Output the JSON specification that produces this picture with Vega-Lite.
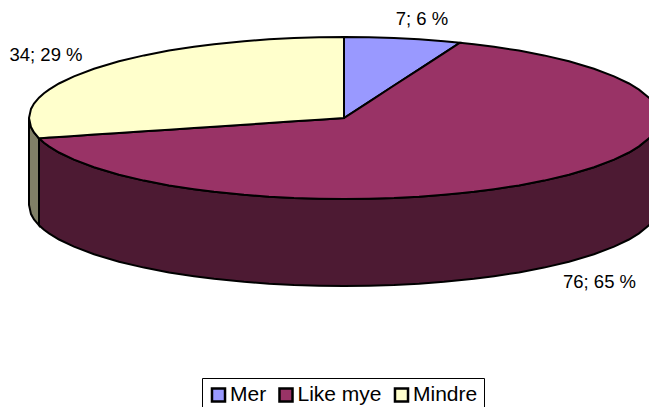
{"$schema":"https://vega.github.io/schema/vega-lite/v6.json","width":649,"height":407,"autosize":{"type":"fit","contains":"padding"},"padding":0,"background":"white","view":{"stroke":null},"config":{"font":"Liberation Sans"},
"datasets":{
"top":[
{"slice":"Mer","x":0,"y":-81,"y2":0},{"slice":"Mer","x":25,"y":-80.7,"y2":-16.2},{"slice":"Mer","x":50,"y":-80,"y2":-32.5},{"slice":"Mer","x":75,"y":-78.7,"y2":-48.7},{"slice":"Mer","x":100,"y":-76.8,"y2":-64.9},{"slice":"Mer","x":116,"y":-75.3,"y2":-75.3},
{"slice":"Like mye","x":-305,"y":20.3,"y2":20.3},{"slice":"Like mye","x":-300,"y":20,"y2":24.7},{"slice":"Like mye","x":-295,"y":19.6,"y2":28.4},{"slice":"Like mye","x":-285,"y":19,"y2":34.5},{"slice":"Like mye","x":-270,"y":18,"y2":41.7},{"slice":"Like mye","x":-250,"y":16.6,"y2":49.3},{"slice":"Like mye","x":-225,"y":15,"y2":56.7},{"slice":"Like mye","x":-200,"y":13.3,"y2":62.6},{"slice":"Like mye","x":-175,"y":11.7,"y2":67.4},{"slice":"Like mye","x":-150,"y":10,"y2":71.2},{"slice":"Like mye","x":-130,"y":8.7,"y2":73.8},{"slice":"Like mye","x":-100,"y":6.7,"y2":76.8},{"slice":"Like mye","x":-75,"y":5,"y2":78.7},{"slice":"Like mye","x":-50,"y":3.3,"y2":80},{"slice":"Like mye","x":-25,"y":1.7,"y2":80.7},{"slice":"Like mye","x":0,"y":0,"y2":81},{"slice":"Like mye","x":25,"y":-16.2,"y2":80.7},{"slice":"Like mye","x":50,"y":-32.5,"y2":80},{"slice":"Like mye","x":75,"y":-48.7,"y2":78.7},{"slice":"Like mye","x":100,"y":-64.9,"y2":76.8},{"slice":"Like mye","x":116,"y":-75.3,"y2":75.3},{"slice":"Like mye","x":130,"y":-73.8,"y2":73.8},{"slice":"Like mye","x":150,"y":-71.2,"y2":71.2},{"slice":"Like mye","x":175,"y":-67.4,"y2":67.4},{"slice":"Like mye","x":200,"y":-62.6,"y2":62.6},{"slice":"Like mye","x":225,"y":-56.7,"y2":56.7},{"slice":"Like mye","x":250,"y":-49.3,"y2":49.3},{"slice":"Like mye","x":270,"y":-41.7,"y2":41.7},{"slice":"Like mye","x":285,"y":-34.5,"y2":34.5},{"slice":"Like mye","x":295,"y":-28.4,"y2":28.4},{"slice":"Like mye","x":305,"y":-20.3,"y2":20.3},{"slice":"Like mye","x":310,"y":-14.4,"y2":14.4},{"slice":"Like mye","x":313,"y":-9.1,"y2":9.1},{"slice":"Like mye","x":315,"y":0,"y2":0},
{"slice":"Mindre","x":-315,"y":0,"y2":0},{"slice":"Mindre","x":-313,"y":-9.1,"y2":9.1},{"slice":"Mindre","x":-310,"y":-14.4,"y2":14.4},{"slice":"Mindre","x":-305,"y":-20.3,"y2":20.3},{"slice":"Mindre","x":-300,"y":-24.7,"y2":20},{"slice":"Mindre","x":-295,"y":-28.4,"y2":19.6},{"slice":"Mindre","x":-285,"y":-34.5,"y2":19},{"slice":"Mindre","x":-270,"y":-41.7,"y2":18},{"slice":"Mindre","x":-250,"y":-49.3,"y2":16.6},{"slice":"Mindre","x":-225,"y":-56.7,"y2":15},{"slice":"Mindre","x":-200,"y":-62.6,"y2":13.3},{"slice":"Mindre","x":-175,"y":-67.4,"y2":11.7},{"slice":"Mindre","x":-150,"y":-71.2,"y2":10},{"slice":"Mindre","x":-130,"y":-73.8,"y2":8.7},{"slice":"Mindre","x":-100,"y":-76.8,"y2":6.7},{"slice":"Mindre","x":-75,"y":-78.7,"y2":5},{"slice":"Mindre","x":-50,"y":-80,"y2":3.3},{"slice":"Mindre","x":-25,"y":-80.7,"y2":1.7},{"slice":"Mindre","x":0,"y":-81,"y2":0}
],
"side":[
{"slice":"Mindre","x":-315,"y":0,"y2":87},{"slice":"Mindre","x":-313,"y":9.1,"y2":96.1},{"slice":"Mindre","x":-310,"y":14.4,"y2":101.4},{"slice":"Mindre","x":-305,"y":20.3,"y2":107.3},
{"slice":"Like mye","x":-305,"y":20.3,"y2":107.3},{"slice":"Like mye","x":-300,"y":24.7,"y2":111.7},{"slice":"Like mye","x":-295,"y":28.4,"y2":115.4},{"slice":"Like mye","x":-285,"y":34.5,"y2":121.5},{"slice":"Like mye","x":-270,"y":41.7,"y2":128.7},{"slice":"Like mye","x":-250,"y":49.3,"y2":136.3},{"slice":"Like mye","x":-225,"y":56.7,"y2":143.7},{"slice":"Like mye","x":-200,"y":62.6,"y2":149.6},{"slice":"Like mye","x":-175,"y":67.4,"y2":154.4},{"slice":"Like mye","x":-150,"y":71.2,"y2":158.2},{"slice":"Like mye","x":-130,"y":73.8,"y2":160.8},{"slice":"Like mye","x":-100,"y":76.8,"y2":163.8},{"slice":"Like mye","x":-75,"y":78.7,"y2":165.7},{"slice":"Like mye","x":-50,"y":80,"y2":167},{"slice":"Like mye","x":-25,"y":80.7,"y2":167.7},{"slice":"Like mye","x":0,"y":81,"y2":168},{"slice":"Like mye","x":25,"y":80.7,"y2":167.7},{"slice":"Like mye","x":50,"y":80,"y2":167},{"slice":"Like mye","x":75,"y":78.7,"y2":165.7},{"slice":"Like mye","x":100,"y":76.8,"y2":163.8},{"slice":"Like mye","x":130,"y":73.8,"y2":160.8},{"slice":"Like mye","x":150,"y":71.2,"y2":158.2},{"slice":"Like mye","x":175,"y":67.4,"y2":154.4},{"slice":"Like mye","x":200,"y":62.6,"y2":149.6},{"slice":"Like mye","x":225,"y":56.7,"y2":143.7},{"slice":"Like mye","x":250,"y":49.3,"y2":136.3},{"slice":"Like mye","x":270,"y":41.7,"y2":128.7},{"slice":"Like mye","x":285,"y":34.5,"y2":121.5},{"slice":"Like mye","x":295,"y":28.4,"y2":115.4},{"slice":"Like mye","x":305,"y":20.3,"y2":107.3},{"slice":"Like mye","x":310,"y":14.4,"y2":101.4},{"slice":"Like mye","x":313,"y":9.1,"y2":96.1},{"slice":"Like mye","x":315,"y":0,"y2":87}
],
"labels":[
{"label":"7; 6 %","x":78,"y":-99},{"label":"34; 29 %","x":-298,"y":-63},{"label":"76; 65 %","x":255.5,"y":164}
]},
"layer":[
{"data":{"name":"side"},"transform":[{"filter":"datum.slice==='Mindre'"}],"mark":{"type":"area","clip":true,"fill":"#808066","stroke":"black","strokeWidth":2},"encoding":{"x":{"field":"x","type":"quantitative","scale":{"domain":[-344,305],"nice":false,"zero":false},"axis":null},"y":{"field":"y","type":"quantitative","scale":{"domain":[289,-118],"nice":false,"zero":false},"axis":null},"y2":{"field":"y2"}}},
{"data":{"name":"side"},"transform":[{"filter":"datum.slice==='Like mye'"}],"mark":{"type":"area","clip":true,"fill":"#4D1A33","stroke":"black","strokeWidth":2},"encoding":{"x":{"field":"x","type":"quantitative","axis":null},"y":{"field":"y","type":"quantitative","axis":null},"y2":{"field":"y2"}}},
{"data":{"name":"top"},"mark":{"type":"area","clip":true,"stroke":"black","strokeWidth":2},"encoding":{"x":{"field":"x","type":"quantitative","axis":null},"y":{"field":"y","type":"quantitative","axis":null},"y2":{"field":"y2"},"color":{"field":"slice","type":"nominal","sort":["Mer","Like mye","Mindre"],"scale":{"domain":["Mer","Like mye","Mindre"],"range":["#9999FF","#993366","#FFFFCC"]},"legend":{"title":null,"orient":"none","legendX":202,"legendY":378,"direction":"horizontal","columns":3,"symbolType":"square","symbolSize":170,"symbolStrokeColor":"black","symbolStrokeWidth":2.5,"symbolOpacity":1,"labelFontSize":21,"labelColor":"black","labelFont":"Liberation Sans","strokeColor":"black","padding":6,"columnPadding":6.5,"fillColor":"white","labelOffset":1}}}},
{"data":{"name":"labels"},"mark":{"type":"text","fontSize":18.5,"font":"Liberation Sans","color":"black"},"encoding":{"x":{"field":"x","type":"quantitative","axis":null},"y":{"field":"y","type":"quantitative","axis":null},"text":{"field":"label"}}}
]}
